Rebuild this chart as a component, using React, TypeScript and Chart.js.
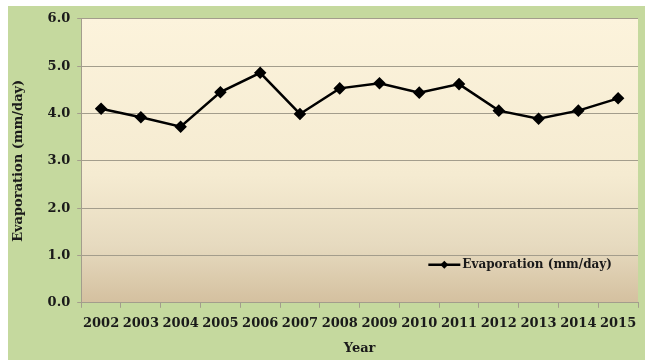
import React, { useEffect, useRef } from "react";
import { Chart, registerables } from "chart.js";

Chart.register(...registerables);

const years = ["2002", "2003", "2004", "2005", "2006", "2007", "2008", "2009", "2010", "2011", "2012", "2013", "2014", "2015"];
const evaporation = [4.1, 3.92, 3.72, 4.45, 4.86, 3.99, 4.53, 4.64, 4.44, 4.62, 4.06, 3.89, 4.06, 4.32];
const yMin = 0;
const yMax = 6;
const yStep = 1;
const seriesLabel = "Evaporation (mm/day)";
const xTitle = "Year";
const yTitle = "Evaporation (mm/day)";

const FONT = "'DejaVu Serif', 'Liberation Serif', serif";

const bgPlugin = {
  id: "bgPlugin",
  beforeDraw(chart: any) {
    const { ctx, chartArea, width, height } = chart;
    ctx.save();
    ctx.fillStyle = "#c5d99e";
    ctx.fillRect(0, 2, width, height - 2);
    const g = ctx.createLinearGradient(0, chartArea.top, 0, chartArea.bottom);
    g.addColorStop(0, "#fcf3dc");
    g.addColorStop(0.55, "#f5ebd1");
    g.addColorStop(0.8, "#e6dabf");
    g.addColorStop(1, "#d4c09f");
    ctx.fillStyle = g;
    ctx.fillRect(chartArea.left, chartArea.top, chartArea.right - chartArea.left, chartArea.bottom - chartArea.top);
    ctx.restore();
  },
};

const legendPlugin = {
  id: "legendPlugin",
  afterDraw(chart: any) {
    const { ctx, chartArea } = chart;
    ctx.save();
    ctx.font = `bold 12px ${FONT}`;
    const tw = ctx.measureText(seriesLabel).width;
    const textRight = chartArea.right - 26;
    const textLeft = textRight - tw;
    const y = chartArea.bottom - 38;
    const lineRight = textLeft - 2;
    const lineLeft = lineRight - 32;
    ctx.strokeStyle = "#000";
    ctx.lineWidth = 2.5;
    ctx.beginPath();
    ctx.moveTo(lineLeft, y);
    ctx.lineTo(lineRight, y);
    ctx.stroke();
    const cx = (lineLeft + lineRight) / 2;
    ctx.fillStyle = "#000";
    ctx.beginPath();
    ctx.moveTo(cx, y - 4);
    ctx.lineTo(cx + 4, y);
    ctx.lineTo(cx, y + 4);
    ctx.lineTo(cx - 4, y);
    ctx.closePath();
    ctx.fill();
    ctx.fillStyle = "#1a1a1a";
    ctx.textBaseline = "middle";
    ctx.textAlign = "left";
    ctx.fillText(seriesLabel, textLeft, y);
    ctx.restore();
  },
};

export default function App() {
  const ref = useRef<HTMLCanvasElement>(null);
  useEffect(() => {
    if (!ref.current) return;
    const chart = new Chart(ref.current, {
      type: "line",
      data: {
        labels: years,
        datasets: [
          {
            label: seriesLabel,
            data: evaporation,
            borderColor: "#000",
            backgroundColor: "#000",
            borderWidth: 2.5,
            pointStyle: "rectRot",
            pointRadius: 4.5,
            pointBackgroundColor: "#000",
            pointBorderColor: "#000",
            tension: 0,
          },
        ],
      },
      options: {
        animation: false,
        responsive: false,
        maintainAspectRatio: false,
        layout: { padding: { left: 2, right: 7, top: 9, bottom: 4 } },
        plugins: {
          legend: { display: false },
          tooltip: { enabled: false },
        },
        scales: {
          x: {
            type: "category",
            offset: true,
            grid: {
              offset: true,
              drawOnChartArea: false,
              drawTicks: true,
              tickLength: 5,
              color: "#a39d8c",
            },
            border: { color: "#a39d8c" },
            ticks: {
              font: { family: FONT, size: 13, weight: "bold" },
              color: "#1a1a1a",
              padding: 8,
              maxRotation: 0,
              autoSkip: false,
            },
            title: {
              display: true,
              text: xTitle,
              font: { family: FONT, size: 13, weight: "bold" },
              color: "#1a1a1a",
              padding: { top: 1, bottom: 0 },
            },
          },
          y: {
            min: yMin,
            max: yMax,
            grid: {
              color: "#a39d8c",
              tickLength: 4,
            },
            border: { color: "#a39d8c" },
            ticks: {
              stepSize: yStep,
              font: { family: FONT, size: 13, weight: "bold" },
              color: "#1a1a1a",
              padding: 7,
              callback: (v: any) => Number(v).toFixed(1),
            },
            title: {
              display: true,
              text: yTitle,
              font: { family: FONT, size: 13, weight: "bold" },
              color: "#1a1a1a",
              padding: { top: 1, bottom: 14 },
            },
          },
        },
      },
      plugins: [bgPlugin, legendPlugin],
    });
    return () => chart.destroy();
  }, []);
  return (
    <div style={{ position: "absolute", left: 8, top: 4, width: 637, height: 356 }}>
      <canvas ref={ref} width={637} height={356} style={{ display: "block", width: 637, height: 356 }} />
    </div>
  );
}
